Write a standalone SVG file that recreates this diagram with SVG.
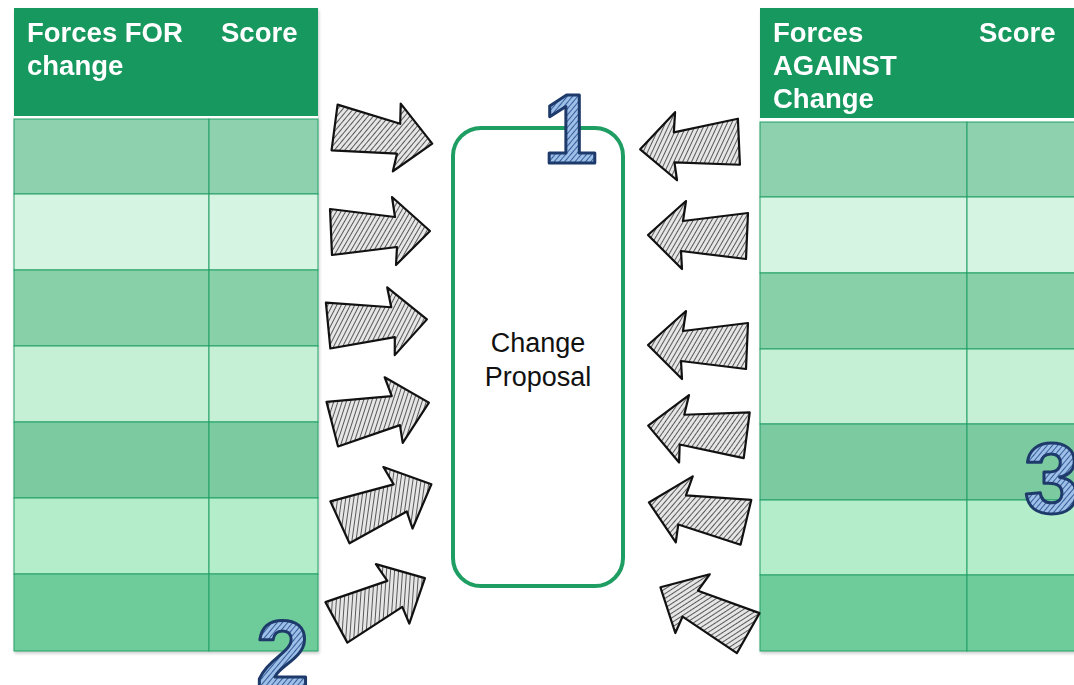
<svg xmlns="http://www.w3.org/2000/svg" xmlns:xlink="http://www.w3.org/1999/xlink" width="1074" height="685" viewBox="0 0 1074 685">
<style>
.hdr{fill:#17985F}
.cell{stroke:#22A066;stroke-width:1}
.ht{font-family:"Liberation Sans",Arial,sans-serif;font-weight:bold;font-size:27.5px;fill:#fff}
.ct{font-family:"Liberation Sans",Arial,sans-serif;font-size:27px;fill:#111;text-anchor:middle}
.num{font-family:"Liberation Sans",Arial,sans-serif;font-weight:bold;fill:url(#bhatch);stroke:#1D3A6B;stroke-width:3;stroke-linejoin:round}
.arr{fill:url(#hatch);stroke:#111;stroke-width:2.2;stroke-linejoin:round}
</style>
<defs>
<pattern id="hatch" width="4" height="4" patternUnits="userSpaceOnUse" patternTransform="rotate(30)">
<rect width="4" height="4" fill="#e6e6e6"/>
<line x1="0" y1="0" x2="0" y2="4" stroke="#1a1a1a" stroke-width="1.4"/>
</pattern>
<pattern id="bhatch" width="4" height="4" patternUnits="userSpaceOnUse" patternTransform="rotate(40)">
<rect width="4" height="4" fill="#9DBFE8"/>
<line x1="0" y1="0" x2="0" y2="4" stroke="#28528F" stroke-width="1.8"/>
</pattern>
<path id="arrowR" class="arr" d="M-50,-22 L15,-14 L12,-34 L50,0 L16,34 L17,16 L-48,24 Z"/>
<path id="arrowL" class="arr" d="M50,-22 L-15,-14 L-12,-34 L-50,0 L-16,34 L-17,16 L48,24 Z"/>
<filter id="sh" x="-5%" y="-5%" width="110%" height="110%">
<feDropShadow dx="1" dy="2" stdDeviation="1.5" flood-color="#000" flood-opacity="0.2"/>
</filter>
</defs>
<rect width="1074" height="685" fill="#fff"/>

<g id="table-for" filter="url(#sh)">
<rect class="hdr" x="14" y="8" width="304" height="108"/>
<rect x="14" y="116" width="304" height="3" fill="#fff"/>
<rect class="cell" x="14" y="119" width="195" height="75" fill="#8DD1AF"/>
<rect class="cell" x="209" y="119" width="109" height="75" fill="#8DD1AF"/>
<rect class="cell" x="14" y="194" width="195" height="76" fill="#D5F4E2"/>
<rect class="cell" x="209" y="194" width="109" height="76" fill="#D5F4E2"/>
<rect class="cell" x="14" y="270" width="195" height="76" fill="#87D0A8"/>
<rect class="cell" x="209" y="270" width="109" height="76" fill="#87D0A8"/>
<rect class="cell" x="14" y="346" width="195" height="76" fill="#C6F0D6"/>
<rect class="cell" x="209" y="346" width="109" height="76" fill="#C6F0D6"/>
<rect class="cell" x="14" y="422" width="195" height="76" fill="#7BCBA0"/>
<rect class="cell" x="209" y="422" width="109" height="76" fill="#7BCBA0"/>
<rect class="cell" x="14" y="498" width="195" height="76" fill="#B4EDCA"/>
<rect class="cell" x="209" y="498" width="109" height="76" fill="#B4EDCA"/>
<rect class="cell" x="14" y="574" width="195" height="77" fill="#6ECB9A"/>
<rect class="cell" x="209" y="574" width="109" height="77" fill="#6ECB9A"/>
<text class="ht" x="27" y="42">Forces FOR</text>
<text class="ht" x="27" y="75">change</text>
<text class="ht" x="221" y="42">Score</text>
</g>

<g id="table-against" filter="url(#sh)">
<rect class="hdr" x="760" y="8" width="314" height="110"/>
<rect x="760" y="118" width="314" height="4" fill="#fff"/>
<rect class="cell" x="760" y="122" width="207" height="75" fill="#8DD1AF"/>
<rect class="cell" x="967" y="122" width="110" height="75" fill="#8DD1AF"/>
<rect class="cell" x="760" y="197" width="207" height="76" fill="#D5F4E2"/>
<rect class="cell" x="967" y="197" width="110" height="76" fill="#D5F4E2"/>
<rect class="cell" x="760" y="273" width="207" height="76" fill="#87D0A8"/>
<rect class="cell" x="967" y="273" width="110" height="76" fill="#87D0A8"/>
<rect class="cell" x="760" y="349" width="207" height="75" fill="#C6F0D6"/>
<rect class="cell" x="967" y="349" width="110" height="75" fill="#C6F0D6"/>
<rect class="cell" x="760" y="424" width="207" height="76" fill="#7BCBA0"/>
<rect class="cell" x="967" y="424" width="110" height="76" fill="#7BCBA0"/>
<rect class="cell" x="760" y="500" width="207" height="75" fill="#B4EDCA"/>
<rect class="cell" x="967" y="500" width="110" height="75" fill="#B4EDCA"/>
<rect class="cell" x="760" y="575" width="207" height="76" fill="#6ECB9A"/>
<rect class="cell" x="967" y="575" width="110" height="76" fill="#6ECB9A"/>
<text class="ht" x="773" y="42">Forces</text>
<text class="ht" x="773" y="75">AGAINST</text>
<text class="ht" x="773" y="108">Change</text>
<text class="ht" x="979" y="42">Score</text>
</g>

<g id="change-proposal">
<rect x="453" y="128" width="170" height="458" rx="28" fill="#fff" stroke="#1E9E62" stroke-width="4"/>
<text class="ct" x="538" y="352">Change</text>
<text class="ct" x="538" y="386">Proposal</text>
</g>

<g id="connectors">
<use xlink:href="#arrowR" transform="translate(383,135) rotate(10)"/>
<use xlink:href="#arrowR" transform="translate(380,231)"/>
<use xlink:href="#arrowR" transform="translate(377,322) rotate(-3)"/>
<use xlink:href="#arrowR" transform="translate(380,413) rotate(-12)"/>
<use xlink:href="#arrowR" transform="translate(385,503) rotate(-22)"/>
<use xlink:href="#arrowR" transform="translate(380,600) rotate(-26)"/>
<use xlink:href="#arrowL" transform="translate(690,145) rotate(-5)"/>
<use xlink:href="#arrowL" transform="translate(698,235)"/>
<use xlink:href="#arrowL" transform="translate(698,345)"/>
<use xlink:href="#arrowL" transform="translate(698,430) rotate(5)"/>
<use xlink:href="#arrowL" transform="translate(698,512) rotate(11)"/>
<use xlink:href="#arrowL" transform="translate(705,610) rotate(27)"/>
</g>

<g id="numbers">
<text class="num" x="543" y="163" font-size="98">1</text>
<text class="num" x="256" y="688" font-size="96">2</text>
<text class="num" x="1024" y="513" font-size="100">3</text>
</g>
</svg>
